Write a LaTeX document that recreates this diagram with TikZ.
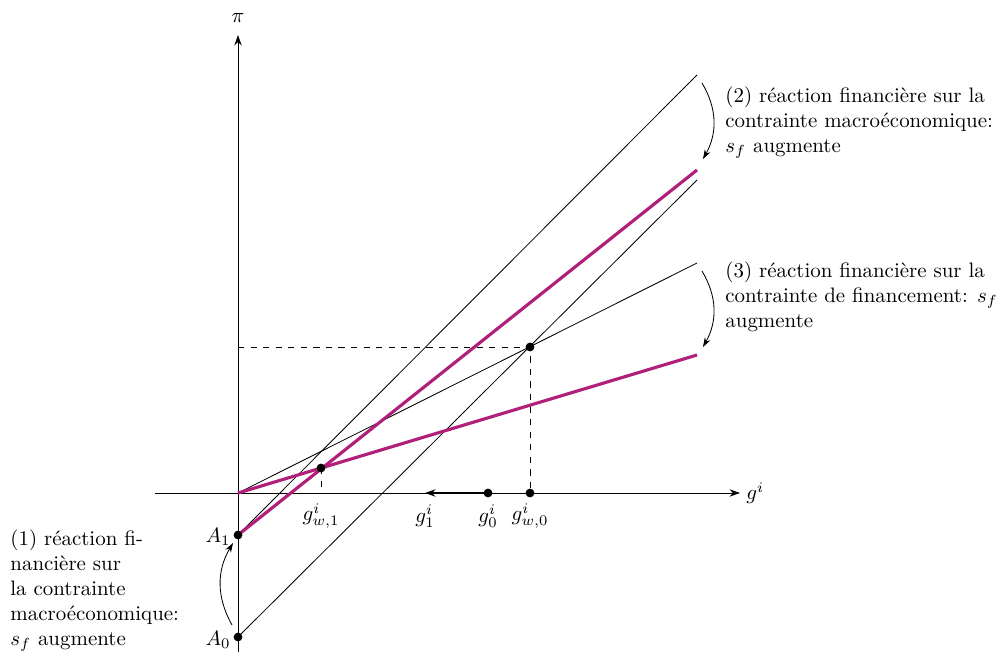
\documentclass[tikz,border=0pt]{standalone}
\usetikzlibrary{arrows.meta}
\definecolor{mag}{RGB}{176,32,122}
\begin{document}
\begin{tikzpicture}[x=0.478pt,y=-0.478pt,
  thinline/.style={line width=0.4pt},
  magline/.style={mag,line width=1.5pt},
  dot/.style={circle,fill=black,inner sep=0pt,minimum size=4.2pt},
  axisarrow/.style={line width=0.4pt,-{Stealth[length=5pt,width=3.5pt]}},
  bendarrow/.style={line width=0.4pt,-{Stealth[length=4.5pt,width=3pt]}},
  dashline/.style={dashed,line width=0.4pt},
  glabel/.style={inner sep=0pt},
  txt/.style={align=left,anchor=north west,inner sep=0pt}]
\useasboundingbox (0,0) rectangle (1000,654);

% axes
\coordinate (xs) at (155,493);
\coordinate (xe) at (740,493);
\coordinate (ys) at (238,652);
\coordinate (ye) at (238,35);
\draw[axisarrow] (xs) -- (xe);
\draw[axisarrow] (ys) -- (ye);
\node[inner sep=0pt] (pi) at (238,18) {$\pi$};
\node[anchor=west,inner sep=0pt] (gi) at (746,493) {$g^i$};

% key points
\coordinate (O) at (238,493);
\coordinate (E1) at (697,75);
\coordinate (E2) at (697,180);
\coordinate (E3) at (697,263);
\coordinate (M1) at (697,170);
\coordinate (M2) at (697,355);
\coordinate (P0) at (530,347);
\coordinate (P1) at (321,468);
\coordinate (Y0) at (238,347);
\coordinate (X0) at (530,493);
\coordinate (X1) at (321,493);
\coordinate (G0) at (488,493);
\coordinate (G1) at (425,493);
\coordinate (A1) at (238,535);
\coordinate (A0) at (238,637);

% black lines
\draw[thinline] (A1) -- (E1);
\draw[thinline] (A0) -- (E2);
\draw[thinline] (O) -- (E3);

% dashed guides
\draw[dashline] (Y0) -- (P0) -- (X0);
\draw[dashline] (P1) -- (X1);

% magenta lines
\draw[magline] (A1) -- (M1);
\draw[magline] (O) -- (M2);

% shift arrow on axis
\draw[line width=0.9pt,-{Stealth[length=5pt,width=3.5pt]}] (G0) -- (G1);

% dots
\node[dot] (dA1) at (A1) {};
\node[dot] (dA0) at (A0) {};
\node[dot] (dP0) at (P0) {};
\node[dot] (dP1) at (P1) {};
\node[dot] (dG0) at (G0) {};
\node[dot] (dX0) at (X0) {};

% labels
\node[anchor=east,inner sep=0pt] (lA1) at (231,537) {$A_1$};
\node[anchor=east,inner sep=0pt] (lA0) at (231,640) {$A_0$};
\node[glabel] (lw1) at (321,516) {$g^i_{w,1}$};
\node[glabel] (l1) at (425,516) {$g^i_1$};
\node[glabel] (l0) at (488,516) {$g^i_0$};
\node[glabel] (lw0) at (530,516) {$g^i_{w,0}$};

% curved arrows
\coordinate (c1s) at (232,625);
\coordinate (c1e) at (233,543);
\coordinate (c2s) at (702,83);
\coordinate (c2e) at (703,159);
\coordinate (c3s) at (702,271);
\coordinate (c3e) at (703,347);
\draw[bendarrow] (c1s) to[bend left=30] (c1e);
\draw[bendarrow] (c2s) to[bend left=30] (c2e);
\draw[bendarrow] (c3s) to[bend left=30] (c3e);

% texts
\node[txt] (t1) at (10,529) {(1) réaction fi-\\nancière sur\\la contrainte\\macroéconomique:\\$s_f$ augmente};
\node[txt] (t2) at (725,86) {(2) réaction financière sur la\\contrainte macroéconomique:\\$s_f$ augmente};
\node[txt] (t3) at (725,261) {(3) réaction financière sur la\\contrainte de financement: $s_f$\\augmente};
\end{tikzpicture}
\end{document}
